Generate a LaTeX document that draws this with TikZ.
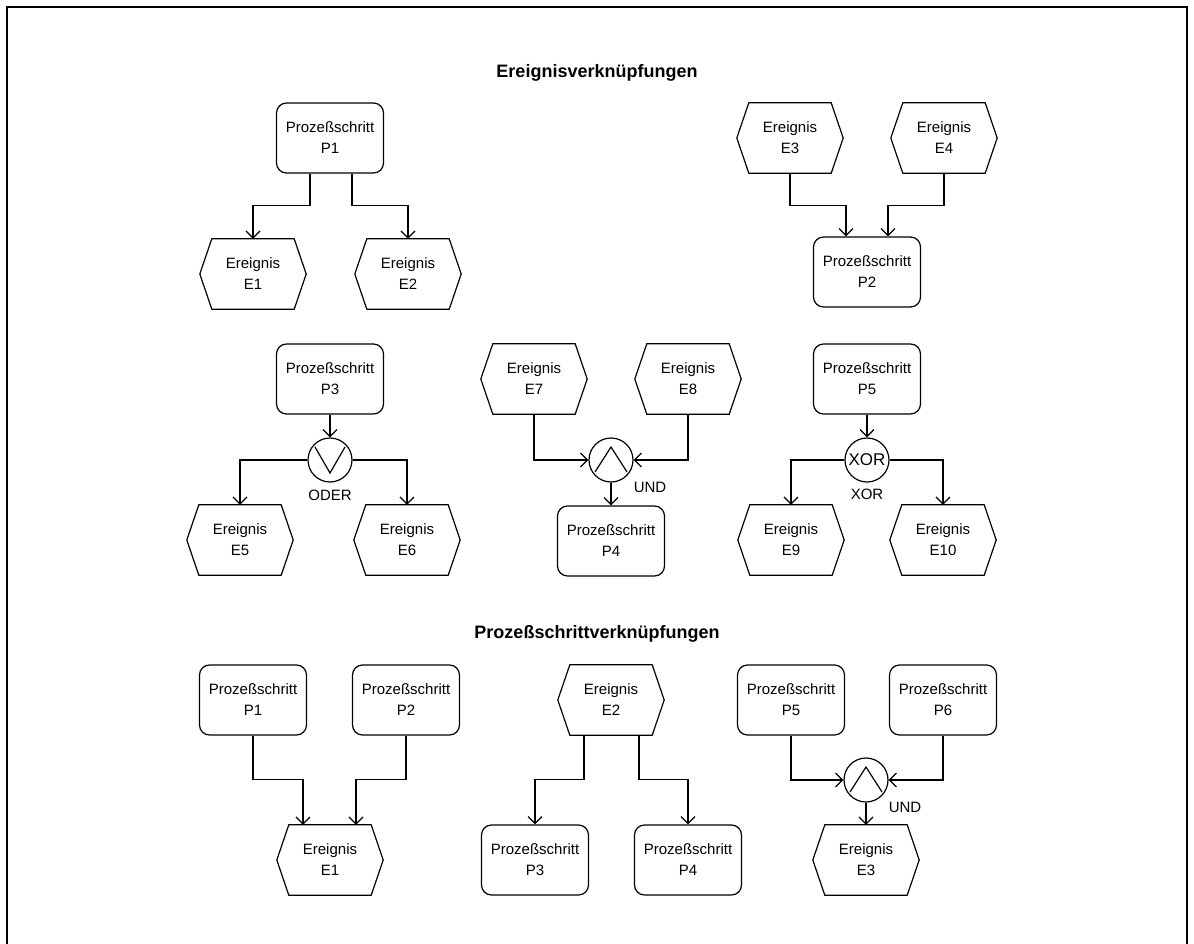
\documentclass[tikz,border=0pt]{standalone}
\usepackage{fontspec}
\setmainfont{Liberation Sans}
\usetikzlibrary{arrows.meta,calc}

% event node: invisible box carrying the text, outlined by a hexagon
\newcommand\eventnode[3]{%
  \node[evt] (#1) at (#2) {#3};
  \draw[hexline] ([xshift=12pt]#1.north west) -- ([xshift=-12pt]#1.north east)
    -- (#1.east) -- ([xshift=-12pt]#1.south east) -- ([xshift=12pt]#1.south west)
    -- (#1.west) -- cycle;}

\begin{document}
\begin{tikzpicture}[x=1pt,y=-1pt,
  every node/.style={font=\fontsize{15}{21}\selectfont},
  proc/.style={draw, rounded corners=10pt, minimum width=107pt, minimum height=70pt,
    align=center, inner sep=0pt, line width=1.2pt},
  evt/.style={minimum width=106pt, minimum height=70pt, align=center, inner sep=0pt},
  hexline/.style={line width=1.2pt, line join=miter},
  gate/.style={draw, circle, minimum size=44pt, inner sep=0pt, line width=1.2pt},
  conn/.style={line width=1.2pt, -{Straight Barb[length=7pt,width=14pt]}},
  plain/.style={line width=1.2pt},
  title/.style={font=\fontsize{18}{22}\selectfont\bfseries},
  lbl/.style={inner sep=0pt}
]
\useasboundingbox (0,0) rectangle (1194,944);

% outer frame
\draw[line width=1.5pt] (7,944) -- (7,7) -- (1187,7) -- (1187,944);

% ---------------- Ereignisverknuepfungen ----------------
\node[title] (t1) at (597,73) {Ereignisverknüpfungen};

% P1 -> E1, E2
\node[proc] (p1a) at (330,138) {Prozeßschritt\\P1};
\eventnode{e1a}{253,274}{Ereignis\\E1}
\eventnode{e2a}{408,274}{Ereignis\\E2}
\draw[conn] ([xshift=-20pt]p1a.south) -- ++(0,32) -| (e1a.north);
\draw[conn] ([xshift=22pt]p1a.south) -- ++(0,32) -| (e2a.north);

% E3, E4 -> P2
\eventnode{e3a}{790,138}{Ereignis\\E3}
\eventnode{e4a}{944,138}{Ereignis\\E4}
\node[proc] (p2a) at (867,272) {Prozeßschritt\\P2};
\draw[conn] (e3a.south) -- ++(0,32) -| ([xshift=-21pt]p2a.north);
\draw[conn] (e4a.south) -- ++(0,32) -| ([xshift=21pt]p2a.north);

% P3 -> ODER -> E5, E6
\node[proc] (p3a) at (330,379) {Prozeßschritt\\P3};
\node[gate] (oder) at (330,460) {};
\draw[plain] ([shift={(-15,-13)}]oder.center) -- ([shift={(0,13)}]oder.center)
  -- ([shift={(15,-13)}]oder.center);
\node[lbl] (loder) at (330,495) {ODER};
\eventnode{e5a}{240,540}{Ereignis\\E5}
\eventnode{e6a}{407,540}{Ereignis\\E6}
\draw[conn] (p3a.south) -- (oder.north);
\draw[conn] (oder.west) -| (e5a.north);
\draw[conn] (oder.east) -| (e6a.north);

% E7, E8 -> UND -> P4
\eventnode{e7a}{534,379}{Ereignis\\E7}
\eventnode{e8a}{688,379}{Ereignis\\E8}
\node[gate] (und1) at (611,460) {};
\draw[plain] ([shift={(-16,12)}]und1.center) -- ([shift={(0,-13)}]und1.center)
  -- ([shift={(16,12)}]und1.center);
\node[lbl] (lund1) at (650,487) {UND};
\node[proc] (p4a) at (611,541) {Prozeßschritt\\P4};
\draw[conn] (e7a.south) |- (und1.west);
\draw[conn] (e8a.south) |- (und1.east);
\draw[conn] (und1.south) -- (p4a.north);

% P5 -> XOR -> E9, E10
\node[proc] (p5a) at (867,379) {Prozeßschritt\\P5};
\node[gate, font=\fontsize{17}{17}\selectfont] (xor) at (867,460) {XOR};
\node[lbl] (lxor) at (867,494) {XOR};
\eventnode{e9a}{791,540}{Ereignis\\E9}
\eventnode{e10a}{943,540}{Ereignis\\E10}
\draw[conn] (p5a.south) -- (xor.north);
\draw[conn] (xor.west) -| (e9a.north);
\draw[conn] (xor.east) -| (e10a.north);

% ---------------- Prozessschrittverknuepfungen ----------------
\node[title] (t2) at (597,634) {Prozeßschrittverknüpfungen};

% P1, P2 -> E1
\node[proc] (p1b) at (253,700) {Prozeßschritt\\P1};
\node[proc] (p2b) at (406,700) {Prozeßschritt\\P2};
\eventnode{e1b}{330,860}{Ereignis\\E1}
\draw[conn] (p1b.south) -- ++(0,44) -| ([xshift=-27pt]e1b.north);
\draw[conn] (p2b.south) -- ++(0,44) -| ([xshift=26pt]e1b.north);

% E2 -> P3, P4
\eventnode{e2b}{611,700}{Ereignis\\E2}
\node[proc] (p3b) at (535,860) {Prozeßschritt\\P3};
\node[proc] (p4b) at (688,860) {Prozeßschritt\\P4};
\draw[conn] ([xshift=-27pt]e2b.south) -- ++(0,44) -| (p3b.north);
\draw[conn] ([xshift=28pt]e2b.south) -- ++(0,44) -| (p4b.north);

% P5, P6 -> UND -> E3
\node[proc] (p5b) at (791,700) {Prozeßschritt\\P5};
\node[proc] (p6b) at (943,700) {Prozeßschritt\\P6};
\node[gate] (und2) at (866,780) {};
\draw[plain] ([shift={(-16,12)}]und2.center) -- ([shift={(0,-13)}]und2.center)
  -- ([shift={(16,12)}]und2.center);
\node[lbl] (lund2) at (905,807) {UND};
\eventnode{e3b}{866,860}{Ereignis\\E3}
\draw[conn] (p5b.south) |- (und2.west);
\draw[conn] (p6b.south) |- (und2.east);
\draw[conn] (und2.south) -- (e3b.north);
\end{tikzpicture}
\end{document}
